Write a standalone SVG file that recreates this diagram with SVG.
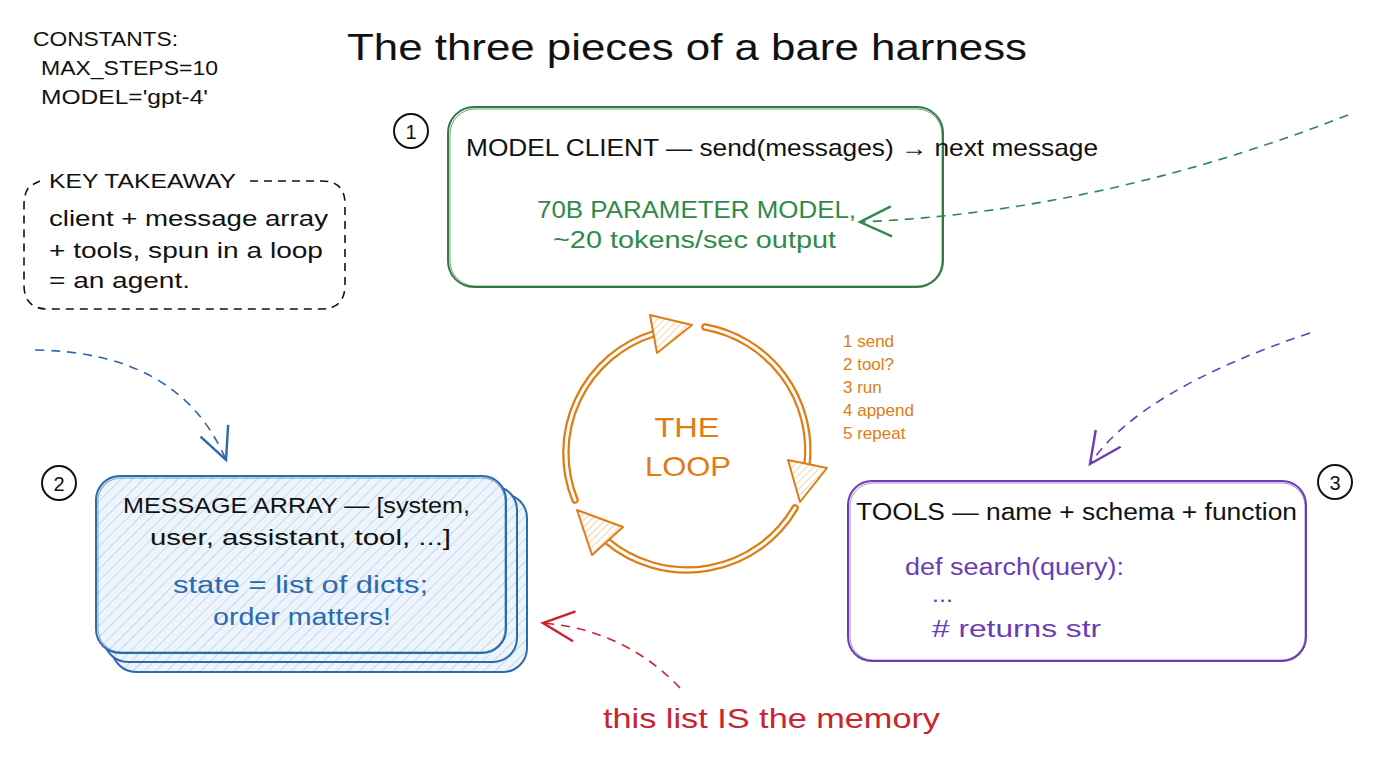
<svg xmlns="http://www.w3.org/2000/svg" width="1376" height="768" viewBox="0 0 1376 768">
<defs>
<style>
text{font-family:"Liberation Sans","DejaVu Sans",sans-serif;}
.blk{fill:#111;}
.grn{fill:#2f8a4a;}
.blu{fill:#2a6aad;}
.pur{fill:#6a3db5;}
.org{fill:#e07c12;}
.red{fill:#c8252e;}
.dash{fill:none;stroke-width:1.6;stroke-dasharray:9 7;}
.num{fill:none;stroke:#111;stroke-width:2;}
</style>
<pattern id="hatchB" patternUnits="userSpaceOnUse" width="8" height="8" patternTransform="rotate(45)">
<rect width="8" height="8" fill="#edf4fb"/>
<line x1="0" y1="0" x2="0" y2="8" stroke="#a9c8e6" stroke-width="1.2"/>
</pattern>
<pattern id="hatchO" patternUnits="userSpaceOnUse" width="5" height="5" patternTransform="rotate(45)">
<rect width="5" height="5" fill="#fff"/>
<line x1="0" y1="0" x2="0" y2="5" stroke="#f0b578" stroke-width="1.2"/>
</pattern>
<marker id="aG" markerUnits="userSpaceOnUse" markerWidth="40" markerHeight="40" viewBox="-24 -14 28 28" refX="0" refY="0" orient="auto"><path d="M-22,-11 L0,0 L-22,10" fill="none" stroke="#2f8a4a" stroke-width="1.7"/></marker>
<marker id="aB" markerUnits="userSpaceOnUse" markerWidth="40" markerHeight="40" viewBox="-24 -14 28 28" refX="0" refY="0" orient="auto"><path d="M-22,-11 L0,0 L-22,10" fill="none" stroke="#2a6aad" stroke-width="1.7"/></marker>
<marker id="aP" markerUnits="userSpaceOnUse" markerWidth="40" markerHeight="40" viewBox="-24 -14 28 28" refX="0" refY="0" orient="auto"><path d="M-22,-11 L0,0 L-22,10" fill="none" stroke="#6a3db5" stroke-width="1.7"/></marker>
<marker id="aR" markerUnits="userSpaceOnUse" markerWidth="40" markerHeight="40" viewBox="-24 -14 28 28" refX="0" refY="0" orient="auto"><path d="M-22,-11 L0,0 L-22,10" fill="none" stroke="#c8252e" stroke-width="1.7"/></marker>
</defs>
<rect width="1376" height="768" fill="#ffffff"/>

<g id="title">
<text x="347" y="60" font-size="37" class="blk" textLength="680" lengthAdjust="spacingAndGlyphs">The three pieces of a bare harness</text>
</g>

<g id="constants">
<text x="33" y="46" font-size="20" class="blk" textLength="145" lengthAdjust="spacingAndGlyphs">CONSTANTS:</text>
<text x="41" y="75" font-size="20" class="blk" textLength="177" lengthAdjust="spacingAndGlyphs">MAX_STEPS=10</text>
<text x="41" y="104" font-size="20" class="blk" textLength="167" lengthAdjust="spacingAndGlyphs">MODEL='gpt-4'</text>
</g>

<g id="takeaway">
<path d="M40,181 L30,186 Q24,192 24,205 L24,285 Q24,309 48,309 L321,309 Q345,309 345,285 L345,204 Q345,181 322,181 L244,181" fill="none" stroke="#111" stroke-width="1.6" stroke-dasharray="8 6"/>
<text x="49" y="188" font-size="21" class="blk" textLength="187" lengthAdjust="spacingAndGlyphs">KEY TAKEAWAY</text>
<text x="49" y="226" font-size="22" class="blk" textLength="279" lengthAdjust="spacingAndGlyphs">client + message array</text>
<text x="49" y="258" font-size="22" class="blk" textLength="274" lengthAdjust="spacingAndGlyphs">+ tools, spun in a loop</text>
<text x="49" y="288" font-size="22" class="blk" textLength="141" lengthAdjust="spacingAndGlyphs">= an agent.</text>
</g>

<g id="model-client">
<circle cx="411" cy="131" r="17" class="num"/>
<text x="411" y="139" font-size="20" class="blk" text-anchor="middle">1</text>
<rect x="448" y="107" width="495" height="180" rx="26" fill="#fff" stroke="#2f7a46" stroke-width="2"/>
<rect x="450" y="109" width="492" height="177" rx="25" fill="none" stroke="#2f7a46" stroke-width="1" opacity="0.7"/>
<text x="466" y="156" font-size="24" class="blk" textLength="632" lengthAdjust="spacingAndGlyphs">MODEL CLIENT — send(messages) → next message</text>
<text x="537" y="218" font-size="23" class="grn" textLength="319" lengthAdjust="spacingAndGlyphs">70B PARAMETER MODEL,</text>
<text x="553" y="248" font-size="23" class="grn" textLength="283" lengthAdjust="spacingAndGlyphs">~20 tokens/sec output</text>
</g>

<g id="message-array">
<circle cx="59" cy="483" r="17" class="num"/>
<text x="59" y="491" font-size="20" class="blk" text-anchor="middle">2</text>
<rect x="112" y="494" width="415" height="178" rx="24" fill="url(#hatchB)" stroke="#2a6aad" stroke-width="2"/>
<rect x="104" y="486" width="413" height="176" rx="24" fill="url(#hatchB)" stroke="#2a6aad" stroke-width="2"/>
<rect x="96" y="476" width="410" height="177" rx="24" fill="url(#hatchB)" stroke="#2a6aad" stroke-width="2"/>
<rect x="98" y="478" width="407" height="174" rx="23" fill="none" stroke="#2a6aad" stroke-width="1" opacity="0.6"/>
<text x="123" y="513" font-size="22" class="blk" textLength="347" lengthAdjust="spacingAndGlyphs">MESSAGE ARRAY — [system,</text>
<text x="150" y="545" font-size="22" class="blk" textLength="301" lengthAdjust="spacingAndGlyphs">user, assistant, tool, ...]</text>
<text x="173" y="593" font-size="23" class="blu" textLength="255" lengthAdjust="spacingAndGlyphs">state = list of dicts;</text>
<text x="213" y="625" font-size="23" class="blu" textLength="178" lengthAdjust="spacingAndGlyphs">order matters!</text>
</g>

<g id="tools">
<circle cx="1335" cy="482" r="17" class="num"/>
<text x="1335" y="490" font-size="20" class="blk" text-anchor="middle">3</text>
<rect x="848" y="481" width="458" height="180" rx="24" fill="#fff" stroke="#6a3db5" stroke-width="2"/>
<rect x="850" y="483" width="455" height="177" rx="23" fill="none" stroke="#6a3db5" stroke-width="1" opacity="0.6"/>
<text x="856" y="520" font-size="23" class="blk" textLength="441" lengthAdjust="spacingAndGlyphs">TOOLS — name + schema + function</text>
<text x="905" y="575" font-size="23" class="pur" textLength="219" lengthAdjust="spacingAndGlyphs">def search(query):</text>
<text x="932" y="602" font-size="22" class="pur" textLength="21" lengthAdjust="spacingAndGlyphs">...</text>
<text x="932" y="637" font-size="23" class="pur" textLength="169" lengthAdjust="spacingAndGlyphs"># returns str</text>
</g>

<g id="loop">
<g fill="none" stroke-linecap="round">
<path d="M575,500 A125,125 0 0 1 653,334" stroke="#e07c12" stroke-width="7.5"/>
<path d="M575,500 A125,125 0 0 1 653,334" stroke="#fff" stroke-width="3"/>
<path d="M705,327 A125,125 0 0 1 807,464" stroke="#e07c12" stroke-width="7.5"/>
<path d="M705,327 A125,125 0 0 1 807,464" stroke="#fff" stroke-width="3"/>
<path d="M795,508 A125,125 0 0 1 607,541" stroke="#e07c12" stroke-width="7.5"/>
<path d="M795,508 A125,125 0 0 1 607,541" stroke="#fff" stroke-width="3"/>
</g>
<polygon points="650,315 692,325 657,353" fill="url(#hatchO)" stroke="#e07c12" stroke-width="2" stroke-linejoin="round"/>
<polygon points="788,460 827,468 800,502" fill="url(#hatchO)" stroke="#e07c12" stroke-width="2" stroke-linejoin="round"/>
<polygon points="623,527 592,555 577,510" fill="url(#hatchO)" stroke="#e07c12" stroke-width="2" stroke-linejoin="round"/>
<text x="687" y="437" font-size="28" class="org" text-anchor="middle" textLength="65" lengthAdjust="spacingAndGlyphs">THE</text>
<text x="688" y="476" font-size="28" class="org" text-anchor="middle" textLength="86" lengthAdjust="spacingAndGlyphs">LOOP</text>
</g>

<g id="loop-steps">
<text x="843" y="347" font-size="17" class="org">1 send</text>
<text x="843" y="370" font-size="17" class="org">2 tool?</text>
<text x="843" y="393" font-size="17" class="org">3 run</text>
<text x="843" y="416" font-size="17" class="org">4 append</text>
<text x="843" y="439" font-size="17" class="org">5 repeat</text>
</g>

<g id="memory-note">
<text x="603" y="728" font-size="28" class="red" textLength="337" lengthAdjust="spacingAndGlyphs">this list IS the memory</text>
</g>

<g id="connectors">
<path d="M1348,115 Q1100,212 860,222" class="dash" stroke="#2f8a4a" marker-end="url(#aG)"/>
<path d="M35,350 Q180,352 226,460" class="dash" stroke="#2a6aad" marker-end="url(#aB)"/>
<path d="M1310,333 Q1140,390 1090,464" class="dash" stroke="#6a3db5" marker-end="url(#aP)"/>
<path d="M680,688 Q625,630 543,623" class="dash" stroke="#c8252e" marker-end="url(#aR)"/>
</g>
</svg>
